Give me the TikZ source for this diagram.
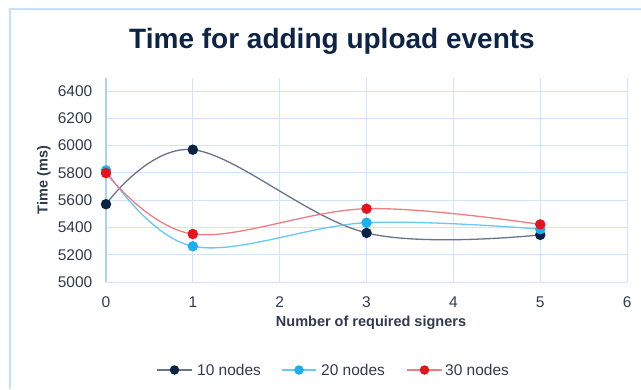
\documentclass[tikz,border=0pt]{standalone}
\usepackage{fontspec}
\setmainfont{Liberation Sans}
\definecolor{navy}{HTML}{0B2244}
\definecolor{navyline}{HTML}{6A7487}
\definecolor{sky}{HTML}{1AAFF0}
\definecolor{skyline}{HTML}{66C8F3}
\definecolor{redm}{HTML}{E3141E}
\definecolor{redline}{HTML}{EC7E84}
\definecolor{gridc}{HTML}{CFE5FB}
\definecolor{axisc}{HTML}{A8D2F6}
\definecolor{framec}{HTML}{C6E0FA}
\definecolor{txt}{HTML}{303B4F}
\definecolor{titlec}{HTML}{0D2447}
\tikzset{
  gridline/.style={draw=gridc, line width=1pt},
  seriesline/.style={line width=1.3pt},
  marker/.style={circle, inner sep=0pt, minimum size=10.5pt, fill=#1},
  legmarker/.style={circle, inner sep=0pt, minimum size=9.5pt, fill=#1},
  ticklab/.style={font=\fontsize{15.5}{18}\selectfont, text=txt},
  axtitle/.style={font=\bfseries\fontsize{14.5}{17}\selectfont, text=txt},
  legtext/.style={font=\fontsize{15.5}{18}\selectfont, text=txt, anchor=west, inner sep=0pt},
}
\begin{document}
\begin{tikzpicture}[x=1pt,y=-1pt]
\useasboundingbox (0,0) rectangle (641,389);
\fill[white] (0,0) rectangle (641,389);
% frame
\draw[framec, line width=2pt] (10,389) -- (10,9) -- (641,9);
% title
\node[font=\bfseries\fontsize{28}{34}\selectfont, text=titlec, anchor=base, inner sep=0pt] (title) at (332,48) {Time for adding upload events};
% grid
\foreach \k in {1,...,6} {
  \draw[gridline] ({106+86.85*\k},78) -- ({106+86.85*\k},282);
}
\foreach \v in {5000,5200,...,6400} {
  \draw[gridline] (106,{282-0.13643*(\v-5000)}) -- (627.1,{282-0.13643*(\v-5000)});
  \node[ticklab, anchor=east, inner sep=0pt] (yt\v) at (92.5,{282-0.13643*(\v-5000)}) {\v};
}
\draw[axisc, line width=2.5pt] (106,78) -- (106,282);
\foreach \k in {0,...,6} {
  \node[ticklab, inner sep=0pt] (xt\k) at ({106+86.85*\k},302) {\k};
}
% axis titles
\node[axtitle, anchor=base, inner sep=0pt] (xtitle) at (371,326.7) {Number of required signers};
\node[axtitle, rotate=90, inner sep=0pt] (ytitle) at (44,180) {Time (ms)};
% data coordinates
\coordinate (a0) at (106,204.2);
\coordinate (a1) at (192.85,149.7);
\coordinate (a3) at (366.55,232.9);
\coordinate (a5) at (540.25,234.9);
\coordinate (b0) at (106,170.4);
\coordinate (b1) at (192.85,246.3);
\coordinate (b3) at (366.55,222.7);
\coordinate (b5) at (540.25,229.1);
\coordinate (c0) at (106,173.1);
\coordinate (c1) at (192.85,234.0);
\coordinate (c3) at (366.55,208.7);
\coordinate (c5) at (540.25,224.4);
% series 10 nodes
\draw[seriesline, navyline] plot[smooth, tension=0.6] coordinates {(a0) (a1) (a3) (a5)};
\foreach \p in {0,1,3,5} { \node[marker=navy] (ma\p) at (a\p) {}; }
% series 20 nodes
\draw[seriesline, skyline] plot[smooth, tension=0.6] coordinates {(b0) (b1) (b3) (b5)};
\foreach \p in {0,1,3,5} { \node[marker=sky] (mb\p) at (b\p) {}; }
% series 30 nodes
\draw[seriesline, redline] plot[smooth, tension=0.6] coordinates {(c0) (c1) (c3) (c5)};
\foreach \p in {0,1,3,5} { \node[marker=redm] (mc\p) at (c\p) {}; }
% legend
\coordinate (la1) at (157,370); \coordinate (la2) at (192,370);
\coordinate (lb1) at (282,370); \coordinate (lb2) at (316,370);
\coordinate (lc1) at (407,370); \coordinate (lc2) at (442,370);
\draw[seriesline, navyline] (la1) -- (la2);
\draw[seriesline, skyline] (lb1) -- (lb2);
\draw[seriesline, redline] (lc1) -- (lc2);
\node[legmarker=navy] (lma) at (174.5,370) {};
\node[legmarker=sky] (lmb) at (299,370) {};
\node[legmarker=redm] (lmc) at (424.5,370) {};
\node[legtext] (lta) at (197,370) {10 nodes};
\node[legtext] (ltb) at (321,370) {20 nodes};
\node[legtext] (ltc) at (445,370) {30 nodes};
\end{tikzpicture}
\end{document}
